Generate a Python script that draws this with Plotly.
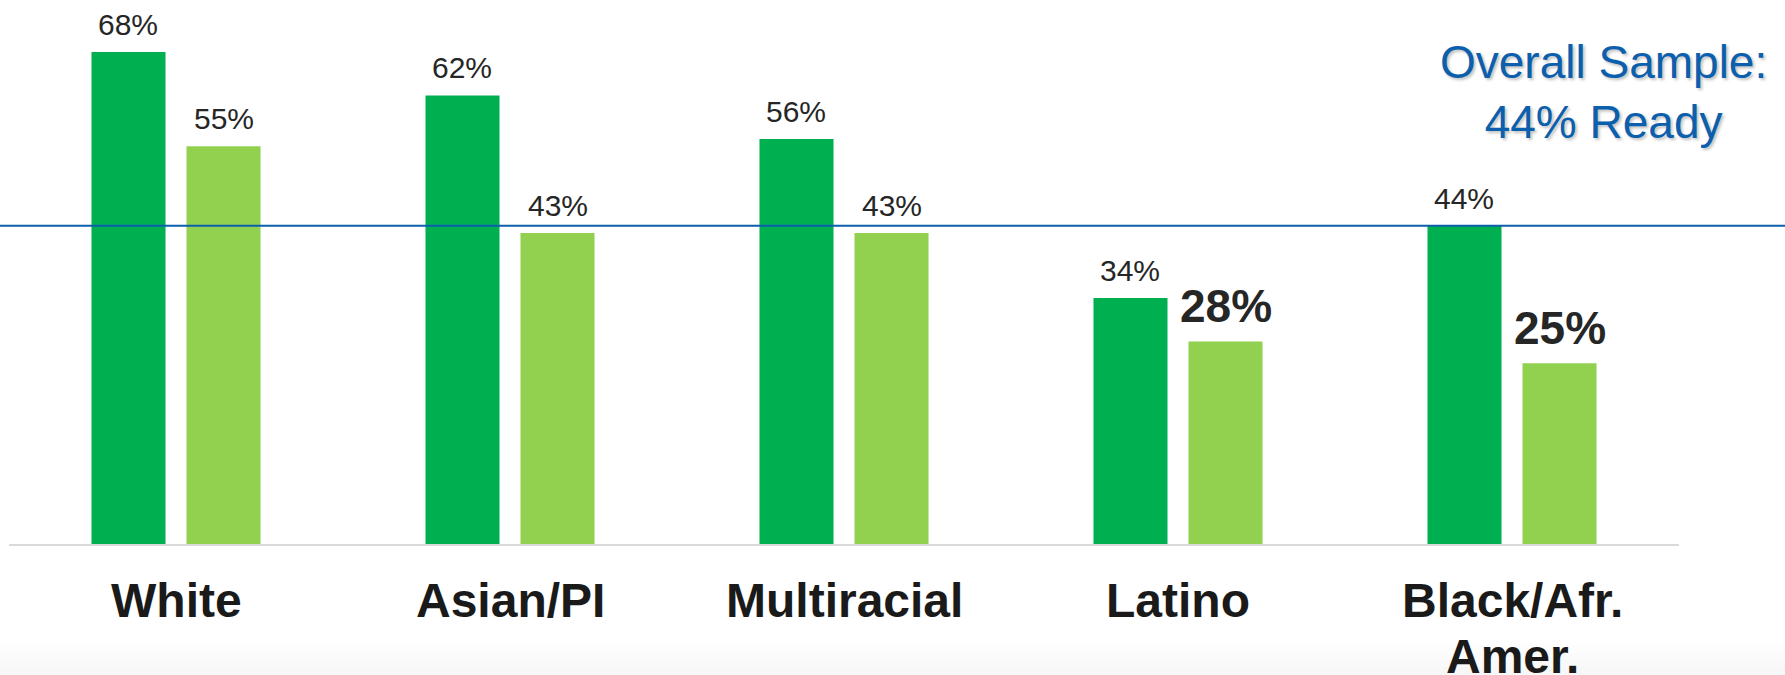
import plotly.graph_objects as go

# Share of students ready, by race/ethnicity, two cohorts
categories = ["White", "Asian/PI", "Multiracial", "Latino", "Black/Afr. Amer."]
category_lines = [["White"], ["Asian/PI"], ["Multiracial"], ["Latino"], ["Black/Afr.", "Amer."]]
series_a = [68, 62, 56, 34, 44]
series_b = [55, 43, 43, 28, 25]
overall = 44
emphasis_b = [False, False, False, True, True]

DARK = "#00b050"
LIGHT = "#92d050"
BLUE = "#0b5fad"
FONT = "Liberation Sans, Arial, sans-serif"

W, H = 1785, 675
L, R, T, B = 9, 106, 0, 131
YMAX = 75.2

fig = go.Figure()
fig.add_trace(go.Bar(x=categories, y=series_a, marker_color=DARK, marker_line_width=0,
                     hoverinfo="skip"))
fig.add_trace(go.Bar(x=categories, y=series_b, marker_color=LIGHT, marker_line_width=0,
                     hoverinfo="skip"))

plot_w = W - L - R
plot_h = H - T - B
slot = plot_w / len(categories)
half = slot * (1 - 0.431) / 4
annotations = []

# value labels above each bar
for cat, va, vb, em in zip(categories, series_a, series_b, emphasis_b):
    annotations.append(dict(x=cat, y=va, xshift=-half, yshift=9, text=f"{va}%",
                            showarrow=False, yanchor="bottom", xanchor="center",
                            font=dict(family=FONT, size=30, color="#262626")))
    annotations.append(dict(x=cat, y=vb, xshift=half, yshift=7 if em else 9, text=f"{vb}%",
                            showarrow=False, yanchor="bottom", xanchor="center",
                            font=dict(family=FONT, size=46 if em else 30, color="#262626",
                                      weight="bold" if em else "normal")))

# category labels under the axis, wrapped with tight line spacing
for cat, lines in zip(categories, category_lines):
    for i, line in enumerate(lines):
        annotations.append(dict(x=cat, y=0, yshift=-56 - 56 * i, text=line,
                                showarrow=False, yanchor="middle", xanchor="center",
                                font=dict(family=FONT, size=48, color="#1a1a1a",
                                          weight="bold")))

annotations.append(dict(xref="paper", yref="paper", x=(1603 - L) / plot_w, y=1,
                        yanchor="top", xanchor="center", showarrow=False,
                        text=f"Overall Sample:<br>{overall}% Ready", align="center",
                        yshift=-34,
                        font=dict(family=FONT, size=46, color=BLUE,
                                  shadow="2px 2px 3px rgba(0,0,0,0.25)")))

shapes = [
    # overall-sample reference line across the full width
    dict(type="line", xref="paper", yref="y", x0=-L / plot_w, x1=(W - L) / plot_w,
         y0=overall, y1=overall, line=dict(color=BLUE, width=2), layer="above"),
]

# faint grey fade along the bottom edge of the page
fade_steps = [(645, 653, "#fdfdfd"), (653, 660, "#fbfbfb"), (660, 667, "#f9f9f9"),
              (667, 675, "#f7f7f7")]
for top_px, bot_px, shade in fade_steps:
    shapes.append(dict(type="rect", xref="paper", yref="paper",
                       x0=-L / plot_w, x1=(W - L) / plot_w,
                       y0=-(bot_px - (H - B)) / plot_h, y1=-(top_px - (H - B)) / plot_h,
                       fillcolor=shade, line_width=0, layer="below"))

fig.update_layout(
    width=W, height=H,
    margin=dict(l=L, r=R, t=T, b=B, pad=0, autoexpand=False),
    paper_bgcolor="white", plot_bgcolor="white",
    barmode="group", bargap=0.431, bargroupgap=0.221,
    showlegend=False,
    annotations=annotations,
    shapes=shapes,
    xaxis=dict(showline=True, linecolor="#d9d9d9", linewidth=2, ticks="",
               showgrid=False, zeroline=False, showticklabels=False, automargin=False),
    yaxis=dict(range=[0, YMAX], visible=False, showgrid=False, zeroline=False,
               automargin=False),
)

fig.write_html("out.html")
